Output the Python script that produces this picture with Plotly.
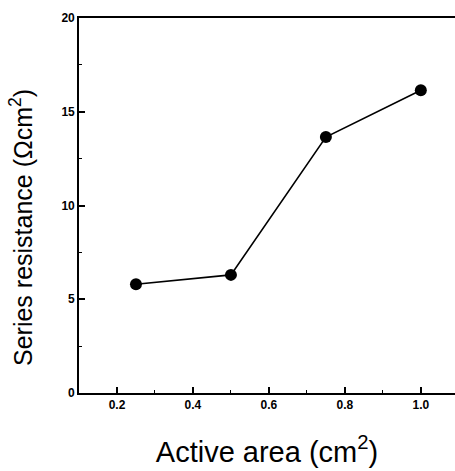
import plotly.graph_objects as go

area = [0.25, 0.5, 0.75, 1.0]
resistance = [5.8, 6.3, 13.65, 16.15]
x_ticks = [0.2, 0.4, 0.6, 0.8, 1.0]
y_ticks = [0, 5, 10, 15, 20]

fig = go.Figure()
fig.add_trace(go.Scatter(
    x=area, y=resistance, mode="lines+markers",
    line=dict(color="black", width=1.6),
    marker=dict(color="black", size=12),
    showlegend=False,
))

fig.update_layout(
    width=455, height=471,
    margin=dict(l=79, r=0, t=18, b=78),
    paper_bgcolor="white", plot_bgcolor="white",
    font=dict(family="Liberation Sans, Arial, sans-serif", color="black"),
)
fig.update_xaxes(
    range=[0.1, 1.09], showgrid=False, zeroline=False,
    showline=True, linecolor="black", linewidth=1.6, mirror=True,
    tickmode="array", tickvals=x_ticks, ticktext=[f"{v:.1f}" for v in x_ticks],
    ticks="inside", ticklen=6, tickwidth=1.5, tickcolor="black",
    minor=dict(ticks="inside", dtick=0.1, tick0=0.1, ticklen=3, tickwidth=1.2, tickcolor="black"),
    tickfont=dict(size=12, weight="bold"),
    title=dict(text="Active area (cm<sup>2</sup>)", font=dict(size=29), standoff=30),
)
fig.update_yaxes(
    range=[0, 20], showgrid=False, zeroline=False,
    showline=True, linecolor="black", linewidth=1.6,
    tickmode="array", tickvals=y_ticks, ticktext=[str(v) for v in y_ticks],
    ticks="inside", ticklen=6, tickwidth=1.5, tickcolor="black",
    minor=dict(ticks="inside", dtick=2.5, tick0=0, ticklen=3, tickwidth=1.2, tickcolor="black"),
    tickfont=dict(size=12, weight="bold"),
)
fig.add_annotation(
    text="Series resistance (\u03a9cm<sup>2</sup>)",
    xref="paper", yref="paper", x=(21 - 79) / 376, y=(393 - 228) / 375,
    xanchor="center", yanchor="middle", textangle=-90, showarrow=False,
    font=dict(size=25, color="black"),
)

fig.write_html("out.html")
